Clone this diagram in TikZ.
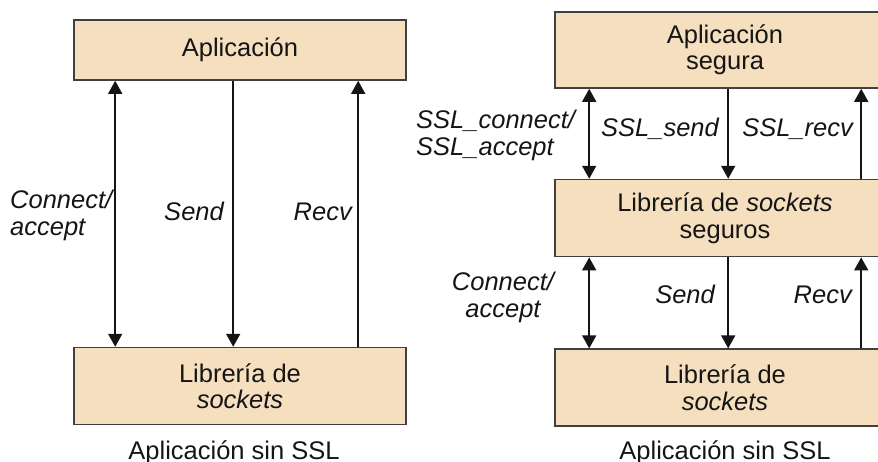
\documentclass[tikz,border=0pt]{standalone}
\usepackage{fontspec}
\setmainfont{Liberation Sans}
\usetikzlibrary{arrows.meta,positioning,calc}
\definecolor{tan}{HTML}{F5DFBF}
\definecolor{edge}{HTML}{404040}
\definecolor{ink}{HTML}{151515}
\tikzset{
  >={Triangle[width=14pt,length=13pt]},
  every node/.style={font=\fontsize{25.5}{26.5}\selectfont,text=ink},
  layer/.style={draw=edge,line width=1.6pt,fill=tan,align=center,inner sep=0pt,minimum height=77pt},
  lbl/.style={font=\fontsize{25.5}{26.5}\selectfont\itshape,inner sep=0pt,align=left},
  caption/.style={inner sep=0pt},
  call/.style={->,line width=1.6pt,draw=ink},
  both/.style={<->,line width=1.6pt,draw=ink}
}
\begin{document}
\begin{tikzpicture}[x=1pt,y=-1pt]
  \useasboundingbox (0,0) rectangle (878,462);
  % sin SSL
  \node[layer,minimum width=332pt,minimum height=60pt] (app) at (240,50) {Aplicación};
  \node[layer,minimum width=332pt,below=266pt of app] (lib) {Librería de\\\textit{sockets}};
  \node[caption,anchor=base] (cap) at (234,459) {Aplicación sin SSL};

  \draw[both] ([xshift=42pt]app.south west) -- ([xshift=42pt]lib.north west);
  \draw[call] ([xshift=160pt]app.south west) -- ([xshift=160pt]lib.north west);
  \draw[call] ([xshift=285pt]lib.north west) -- ([xshift=285pt]app.south west);

  \node[lbl,anchor=north west] (conn) at (10,190) {Connect/\\accept};
  \node[lbl,anchor=base east] (send) at (224,221) {Send};
  \node[lbl,anchor=base east] (recv) at (352,221) {Recv};

  % con SSL
  \node[layer,minimum width=340pt,minimum height=76pt] (sapp) at (725,50) {Aplicación\\segura};
  \node[layer,minimum width=340pt,below=90pt of sapp] (slib) {Librería de \textit{sockets}\\seguros};
  \node[layer,minimum width=340pt,below=91pt of slib] (blib) {Librería de\\\textit{sockets}};
  \node[caption,anchor=base] (scap) at (725,459) {Aplicación sin SSL};

  \draw[both] ([xshift=35pt]sapp.south west) -- ([xshift=35pt]slib.north west);
  \draw[call] ([xshift=174pt]sapp.south west) -- ([xshift=174pt]slib.north west);
  \draw[call] ([xshift=307pt]slib.north west) -- ([xshift=307pt]sapp.south west);
  \draw[both] ([xshift=35pt]slib.south west) -- ([xshift=35pt]blib.north west);
  \draw[call] ([xshift=174pt]slib.south west) -- ([xshift=174pt]blib.north west);
  \draw[call] ([xshift=307pt]blib.north west) -- ([xshift=307pt]slib.south west);

  \node[lbl,anchor=north west] (sslconn) at (416,110) {SSL\_connect/\\SSL\_accept};
  \node[lbl,anchor=base east] (sslsend) at (719,137) {SSL\_send};
  \node[lbl,anchor=base east] (sslrecv) at (853,137) {SSL\_recv};
  \node[lbl,align=center,anchor=north] (bconn) at (503,272) {Connect/\\accept};
  \node[lbl,anchor=base east] (bsend) at (715,304) {Send};
  \node[lbl,anchor=base east] (brecv) at (852,304) {Recv};
\end{tikzpicture}
\end{document}
